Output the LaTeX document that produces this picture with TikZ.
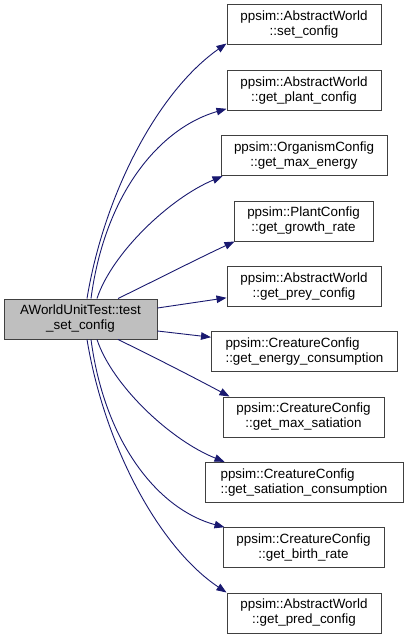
\documentclass[tikz,border=0pt]{standalone}
\usepackage{fontspec}
\setmainfont{Liberation Sans}
\usetikzlibrary{arrows.meta}
\definecolor{edgeblue}{HTML}{191970}
\definecolor{nodeborder}{HTML}{404040}
\definecolor{nodegray}{HTML}{BFBFBF}
\begin{document}
\begin{tikzpicture}[x=1pt,y=-1pt,
  fnbox/.style={draw=nodeborder, line width=1pt, fill=white, minimum height=40pt,
    inner sep=0pt, align=center, font=\fontsize{13.4}{15}\selectfont},
  mainbox/.style={fnbox, fill=nodegray},
  call/.style={draw=edgeblue, line width=0.9pt, -{Triangle[length=10pt,width=7.5pt]}, color=edgeblue}]
\useasboundingbox (0,0) rectangle (408,639);
\fill[white] (0,0) rectangle (408,639);

\node[mainbox, minimum width=153pt] (L) at (80.5,319) {AWorldUnitTest::test\\\_set\_config};

\node[fnbox, minimum width=154pt] (B1) at (304,25) {ppsim::AbstractWorld\\::set\_config};
\node[fnbox, minimum width=154pt] (B2) at (304,90.3) {ppsim::AbstractWorld\\::get\_plant\_config};
\node[fnbox, minimum width=166pt] (B3) at (304,155.7) {ppsim::OrganismConfig\\::get\_max\_energy};
\node[fnbox, minimum width=139pt] (B4) at (303.5,221) {ppsim::PlantConfig\\::get\_growth\_rate};
\node[fnbox, minimum width=154pt] (B5) at (304,286.3) {ppsim::AbstractWorld\\::get\_prey\_config};
\node[fnbox, minimum width=186pt, align=left] (B6) at (304.5,351.7) {ppsim::CreatureConfig\\::get\_energy\_consumption};
\node[fnbox, minimum width=161pt] (B7) at (303.5,417) {ppsim::CreatureConfig\\::get\_max\_satiation};
\node[fnbox, minimum width=198pt, align=left] (B8) at (304,482.3) {ppsim::CreatureConfig\\::get\_satiation\_consumption};
\node[fnbox, minimum width=161pt] (B9) at (303.5,547.7) {ppsim::CreatureConfig\\::get\_birth\_rate};
\node[fnbox, minimum width=154pt] (B10) at (304,613) {ppsim::AbstractWorld\\::get\_pred\_config};

% upper calls
\draw[call] ([xshift=6.5pt]L.north) .. controls (105,190) and (160,90) .. ([yshift=2pt]B1.south west);
\draw[call] ([xshift=10.5pt]L.north) .. controls (105,193) and (160,128) .. ([yshift=2pt]B2.south west);
\draw[call] ([xshift=16.5pt]L.north) .. controls (112,253) and (170,198) .. ([xshift=2pt]B3.south west);
\draw[call] ([xshift=37.5pt]L.north) .. controls (150,283) and (195,260) .. ([xshift=1pt]B4.south west);
\draw[call] ([yshift=11pt]L.east) -- ([yshift=9pt]B5.south west);
% lower calls
\draw[call] ([yshift=-12pt]L.east) -- ([yshift=-6pt]B6.north west);
\draw[call] ([xshift=37.5pt]L.south) .. controls (150,355) and (195,378) .. ([xshift=7pt]B7.north west);
\draw[call] ([xshift=16.5pt]L.south) .. controls (112,385) and (170,440) .. ([xshift=20pt]B8.north west);
\draw[call] ([xshift=10.5pt]L.south) .. controls (105,445) and (160,510) .. ([xshift=2pt]B9.north west);
\draw[call] ([xshift=6.5pt]L.south) .. controls (105,448) and (160,548) .. (B10.north west);
\end{tikzpicture}
\end{document}
